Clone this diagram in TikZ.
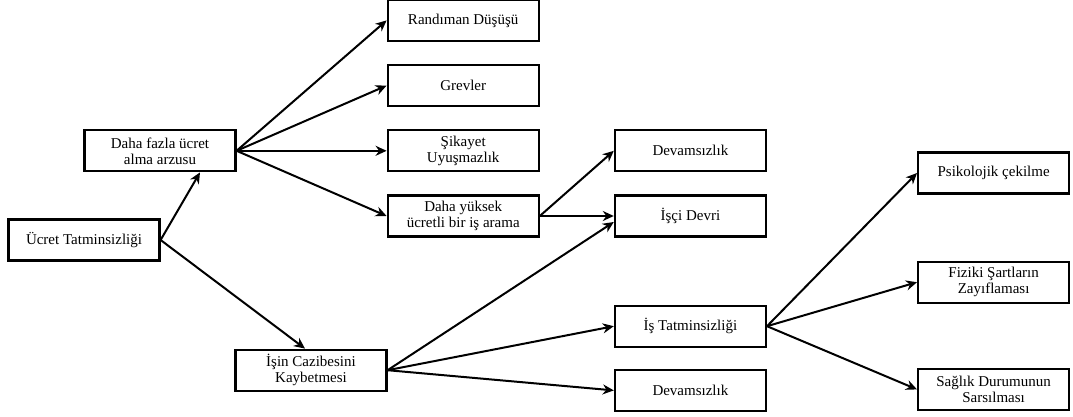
\documentclass[tikz,border=0pt]{standalone}
\usepackage{fontspec}
\setmainfont{Liberation Serif}
\usepackage{tikz}
\usetikzlibrary{positioning, arrows.meta}
\tikzset{
    factor/.style={draw, rectangle, line width=2.2pt, minimum width=151pt, minimum height=41pt, align=center, inner sep=2pt, font=\fontsize{15}{16}\selectfont},
    leads/.style={-{Stealth[length=11pt,width=10pt]}, line width=2pt} }

\begin{document}
\begin{tikzpicture}[x=1pt, y=1pt, node distance=22pt]
	\useasboundingbox (0,0) rectangle (1073,416);
	\node[factor] (ucret) at (84,176) {Ücret Tatminsizliği};
	\node[factor, above=46pt of ucret, xshift=76pt] (arzu) {Daha fazla ücret\\alma arzusu};
	\node[factor, right=150pt of arzu] (sikayet) {Şikayet\\Uyuşmazlık};
	\node[factor, above=of sikayet] (grev) {Grevler};
	\node[factor, above=of grev] (randiman) {Randıman Düşüşü};
	\node[factor, below=of sikayet] (arama) {Daha yüksek\\ücretli bir iş arama};
	\node[factor, right=74pt of arama] (devir) {İşçi Devri};
	\node[factor, above=of devir] (devam) {Devamsızlık};
	\node[factor, below=87pt of ucret, xshift=227pt] (cazibe) {İşin Cazibesini\\Kaybetmesi};
	\node[factor, below=67pt of devir] (istatmin) {İş Tatminsizliği};
	\node[factor, below=21pt of istatmin] (devam2) {Devamsızlık};
	\node[factor, right=150pt of istatmin, yshift=44pt] (fiziki) {Fiziki Şartların\\Zayıflaması};
	\node[factor, above=66pt of fiziki] (psiko) {Psikolojik çekilme};
	\node[factor, below=64pt of fiziki] (saglik) {Sağlık Durumunun\\Sarsılması};
	% ----
	\draw[leads] (ucret.east) to ([xshift=40pt]arzu.south);
	\draw[leads] (ucret.east) to ([xshift=-6pt]cazibe.north);

	\draw[leads] (arzu.east) to (randiman.west);
	\draw[leads] (arzu.east) to (grev.west);
	\draw[leads] (arzu.east) to (sikayet.west);
	\draw[leads] (arzu.east) to (arama.west);

	\draw[leads] (arama.east) to (devam.west);
	\draw[leads] (arama.east) to (devir.west);

	\draw[leads] (cazibe.east) to ([yshift=-6pt]devir.west);
	\draw[leads] (cazibe.east) to (istatmin.west);
	\draw[leads] (cazibe.east) to (devam2.west);

	\draw[leads] (istatmin.east) to (psiko.west);
	\draw[leads] (istatmin.east) to (fiziki.west);
	\draw[leads] (istatmin.east) to (saglik.west);
\end{tikzpicture}
\end{document}
